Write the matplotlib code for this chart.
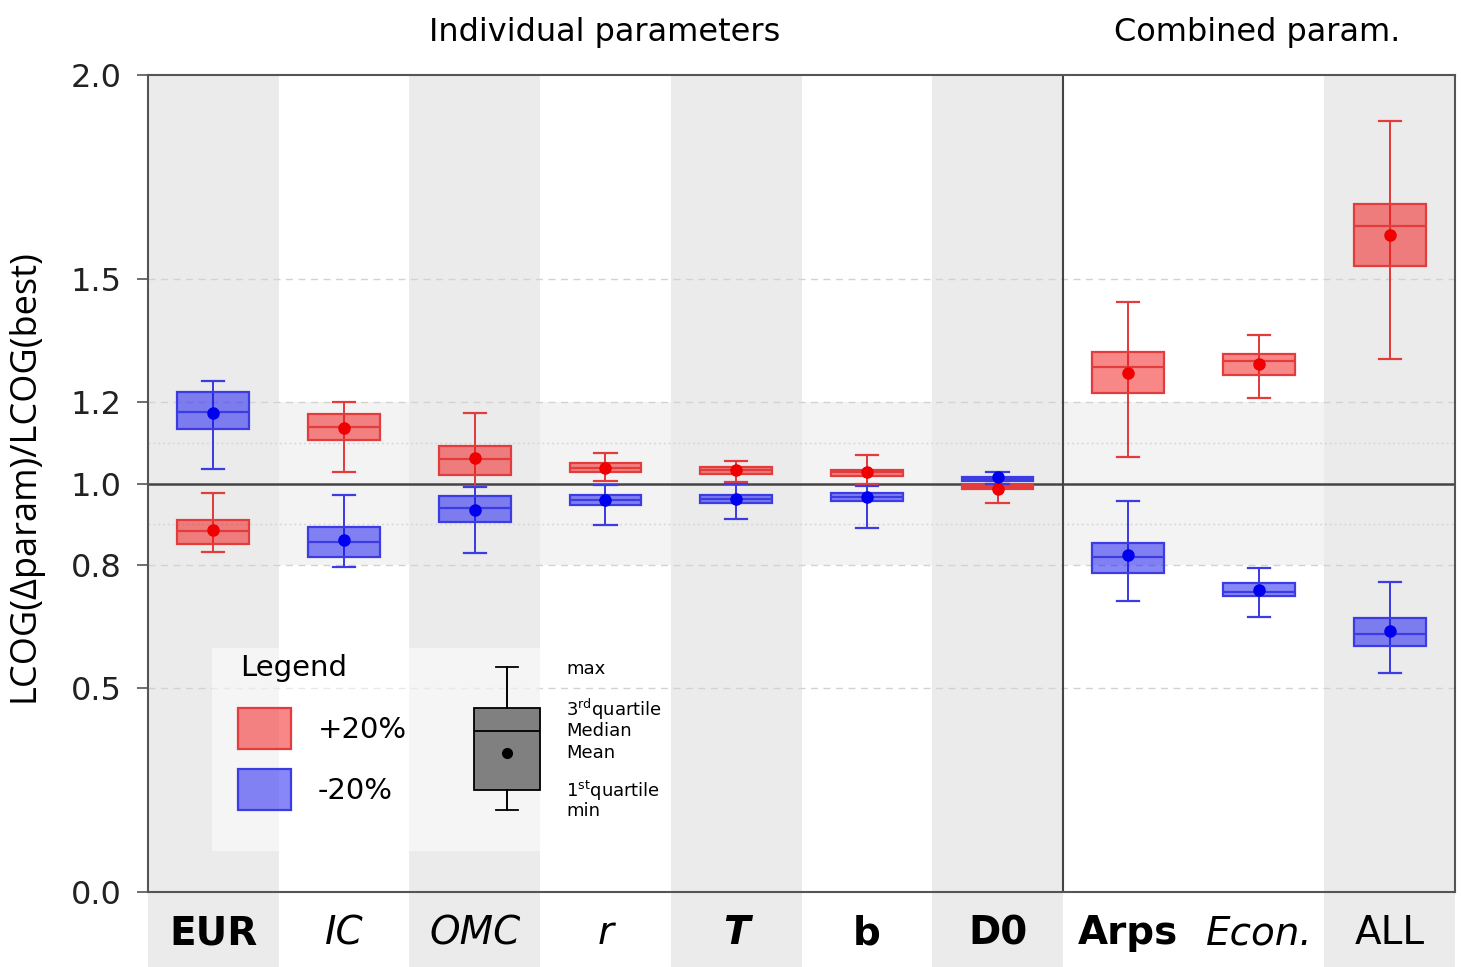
import numpy as np
import matplotlib
matplotlib.use('Agg')
import matplotlib.pyplot as plt
import matplotlib.transforms as mtransforms
from matplotlib.patches import Rectangle

plt.rcParams['font.family'] = ['DejaVu Sans']
plt.rcParams['mathtext.fontset'] = 'dejavusans'
plt.rcParams['mathtext.default'] = 'regular'

# 参数类别
categories = ['EUR', 'IC', 'OMC', 'r', 'T', 'b', 'D0', 'Arps', 'Econ.', 'ALL']
label_weight = ['bold', 'normal', 'normal', 'normal', 'bold', 'bold', 'bold', 'bold', 'normal', 'normal']
label_style = ['normal', 'italic', 'italic', 'italic', 'italic', 'normal', 'normal', 'normal', 'italic', 'normal']
shaded = [1, 0, 1, 0, 1, 0, 1, 0, 0, 1]

# +20% 情形
plus_max = [0.976, 1.200, 1.172, 1.075, 1.056, 1.069, 1.000, 1.444, 1.363, 1.888]
plus_q3 = [0.911, 1.170, 1.093, 1.049, 1.041, 1.033, 0.996, 1.323, 1.316, 1.684]
plus_med = [0.883, 1.139, 1.060, 1.039, 1.033, 1.027, 0.992, 1.286, 1.300, 1.631]
plus_mean = [0.886, 1.135, 1.062, 1.039, 1.032, 1.027, 0.987, 1.270, 1.292, 1.609]
plus_q1 = [0.852, 1.106, 1.020, 1.027, 1.023, 1.019, 0.986, 1.222, 1.266, 1.532]
plus_min = [0.833, 1.028, 0.995, 1.006, 1.003, 0.998, 0.952, 1.066, 1.209, 1.304]

# -20% 情形
minus_max = [1.250, 0.972, 0.992, 0.997, 0.998, 0.993, 1.028, 0.956, 0.792, 0.759]
minus_q3 = [1.224, 0.894, 0.970, 0.972, 0.973, 0.976, 1.015, 0.855, 0.756, 0.670]
minus_med = [1.176, 0.858, 0.939, 0.960, 0.963, 0.968, 1.011, 0.819, 0.735, 0.631]
minus_mean = [1.172, 0.862, 0.935, 0.959, 0.962, 0.966, 1.015, 0.824, 0.740, 0.639]
minus_q1 = [1.133, 0.819, 0.906, 0.947, 0.952, 0.958, 1.005, 0.781, 0.725, 0.603]
minus_min = [1.036, 0.795, 0.829, 0.898, 0.913, 0.892, 1.000, 0.712, 0.674, 0.536]

y_ticks = [0.0, 0.5, 0.8, 1.0, 1.2, 1.5, 2.0]
dashed_levels = [0.5, 0.8, 1.2, 1.5]
dotted_levels = [0.9, 1.1]

# 图例中的示意箱线（位置示意值）
sample_box = dict(whislo=0.201, q1=0.250, med=0.394, mean=0.340, q3=0.450, whishi=0.551, fliers=[])
sample_x = 2.247

RED_FACE, RED_EDGE = (0.95, 0.0, 0.0, 0.47), '#e23c3c'
BLUE_FACE, BLUE_EDGE = (0.0, 0.0, 0.95, 0.47), '#3c3ce2'


def draw_boxes(ax, lo, q1, med, mean, q3, hi, face, edge, dot):
    pos = np.arange(len(lo))
    stats = [dict(whislo=a, q1=b, med=c, mean=d, q3=e, whishi=f, fliers=[])
             for a, b, c, d, e, f in zip(lo, q1, med, mean, q3, hi)]
    ax.vlines(pos, lo, hi, color=edge, lw=1.3, zorder=3)
    ax.bxp(stats, positions=pos, widths=0.55, capwidths=0.17, patch_artist=True,
           showmeans=True, showfliers=False, manage_ticks=False, zorder=3,
           boxprops=dict(facecolor=face, edgecolor=edge, linewidth=1.6),
           medianprops=dict(color=edge, linewidth=1.6),
           whiskerprops=dict(color=edge, linewidth=1.3),
           capprops=dict(color=edge, linewidth=1.6),
           meanprops=dict(marker='o', markerfacecolor=dot, markeredgecolor=dot, markersize=8))


fig = plt.figure(figsize=(14.62, 9.67), dpi=100)
ax = fig.add_axes([148 / 1462, 75 / 967, 1307 / 1462, 817 / 967])
ax.set_xlim(-0.5, len(categories) - 0.5)
ax.set_ylim(0, 2.0)

# 0.8-1.2 浅灰带，再叠加灰色列条带（延伸到刻度标签区域）
ax.axhspan(0.8, 1.2, color='#f3f3f3', zorder=0, lw=0)
below = mtransforms.blended_transform_factory(ax.transData, ax.transAxes)
for i, s in enumerate(shaded):
    if s:
        ax.axvspan(i - 0.5, i + 0.5, color='#ebebeb', zorder=0.5, lw=0)
        ax.add_patch(Rectangle((i - 0.5, -0.12), 1, 0.12, transform=below,
                               color='#ebebeb', clip_on=False, zorder=0.5, lw=0))

for lv in dashed_levels:
    ax.axhline(lv, color='#d2d2d2', lw=1.0, ls=(0, (5, 4)), zorder=1)
for lv in dotted_levels:
    ax.axhline(lv, color='#d6d6d6', lw=1.0, ls=(0, (1.5, 2)), zorder=1)
ax.axhline(1.0, color='#444444', lw=1.8, zorder=2)
ax.axvline(6.5, color='#444444', lw=1.5, zorder=2)

draw_boxes(ax, plus_min, plus_q1, plus_med, plus_mean, plus_q3, plus_max,
           RED_FACE, RED_EDGE, '#f00000')
draw_boxes(ax, minus_min, minus_q1, minus_med, minus_mean, minus_q3, minus_max,
           BLUE_FACE, BLUE_EDGE, '#0000f0')

# 图例
ax.add_patch(Rectangle((0.049, 0.050), 0.251, 0.249, transform=ax.transAxes,
                       facecolor='white', alpha=0.5, lw=0, zorder=2))
ax.text(0.0704, 0.274, 'Legend', transform=ax.transAxes, fontsize=21, va='center', zorder=4)
ax.add_patch(Rectangle((0.0689, 0.175), 0.0405, 0.050, transform=ax.transAxes,
                       facecolor=RED_FACE, edgecolor=RED_EDGE, lw=1.6, zorder=4))
ax.add_patch(Rectangle((0.0689, 0.1004), 0.0405, 0.050, transform=ax.transAxes,
                       facecolor=BLUE_FACE, edgecolor=BLUE_EDGE, lw=1.6, zorder=4))
ax.text(0.130, 0.198, '+20%', transform=ax.transAxes, fontsize=21, va='center', zorder=4)
ax.text(0.130, 0.124, '-20%', transform=ax.transAxes, fontsize=21, va='center', zorder=4)

ax.vlines([sample_x], sample_box['whislo'], sample_box['whishi'], color='black', lw=1.2, zorder=4)
ax.bxp([sample_box], positions=[sample_x], widths=0.51, capwidths=0.17, patch_artist=True,
       showmeans=True, showfliers=False, manage_ticks=False, zorder=4,
       boxprops=dict(facecolor='#808080', edgecolor='black', linewidth=1.3),
       medianprops=dict(color='black', linewidth=1.3),
       whiskerprops=dict(color='black', linewidth=1.2),
       capprops=dict(color='black', linewidth=1.3),
       meanprops=dict(marker='o', markerfacecolor='black', markeredgecolor='black', markersize=7))
sample_labels = [('max', 0.273), ('3$^{rd}$quartile', 0.224), ('Median', 0.197),
                 ('Mean', 0.170), ('1$^{st}$quartile', 0.124), ('min', 0.099)]
for txt, yy in sample_labels:
    ax.text(0.320, yy, txt, transform=ax.transAxes, fontsize=13, va='center', zorder=4)

# 坐标轴
ax.set_yticks(y_ticks)
ax.set_yticklabels([f'{v:.1f}' for v in y_ticks])
ax.tick_params(axis='y', length=8, width=1.2, color='#555555', pad=11, labelsize=23, labelcolor='#222222')
ax.set_xticks(np.arange(len(categories)))
ax.set_xticklabels(categories)
ax.tick_params(axis='x', length=0, pad=16, labelsize=28)
for lab, w, st in zip(ax.get_xticklabels(), label_weight, label_style):
    lab.set_fontweight(w)
    lab.set_fontstyle(st)
for sp in ax.spines.values():
    sp.set_color('#555555')
    sp.set_linewidth(1.5)
    sp.set_zorder(5)

ax.set_ylabel('LCOG(Δparam)/LCOG(best)', fontsize=26, family='Open Sans')
ax.yaxis.set_label_coords(-0.081, 0.51)

fig.text(605 / 1462, 1 - 32 / 967, 'Individual parameters', fontsize=23, ha='center', va='center')
fig.text(1257 / 1462, 1 - 32 / 967, 'Combined param.', fontsize=23, ha='center', va='center')

fig.savefig('out.png', dpi=100)
